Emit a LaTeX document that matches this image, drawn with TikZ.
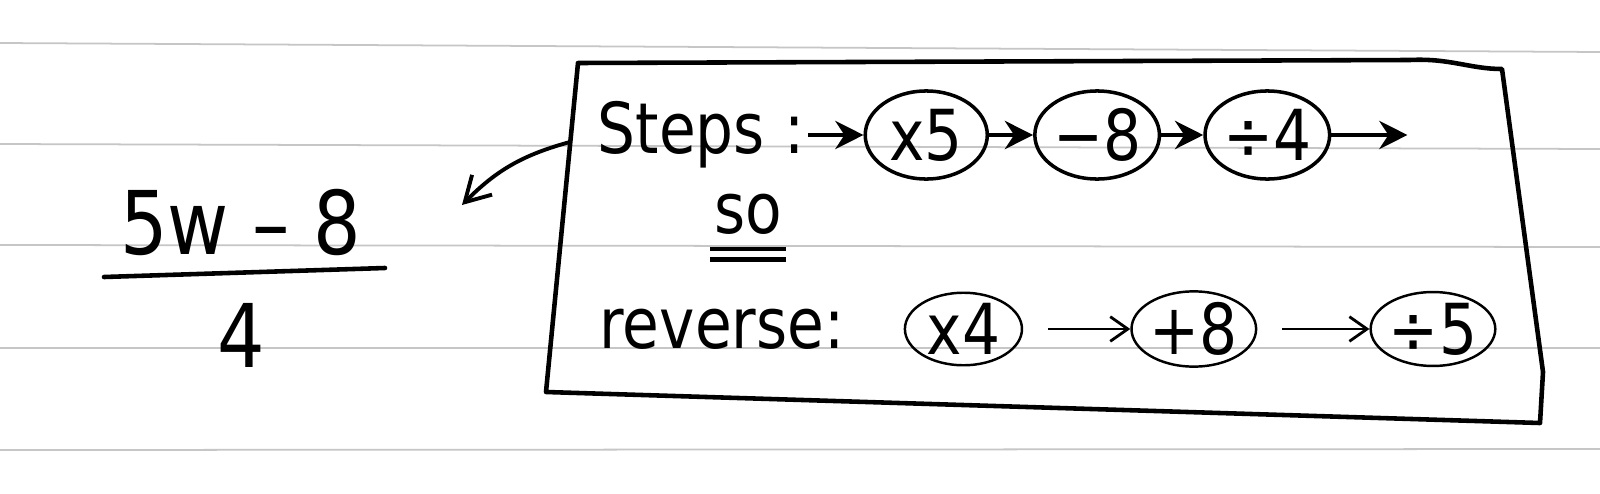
\documentclass[tikz,border=0pt]{standalone}
\usepackage{fontspec}
\setmainfont[FakeStretch=0.85]{DejaVu Sans}
\usepackage{tikz}
\usetikzlibrary{positioning, arrows.meta, shapes.geometric}

\begin{document}
\begin{tikzpicture}[x=0.01cm, y=-0.01cm, node distance=1cm,
    hand/.style={font=\fontsize{20}{24}\selectfont, inner sep=1pt},
    big/.style={font=\fontsize{25}{30}\selectfont, inner sep=1pt},
    op/.style={hand, ellipse, draw, line width=1pt, minimum width=1.22cm, minimum height=0.88cm, inner sep=0pt},
    rop/.style={op, line width=0.7pt, minimum width=1.17cm, minimum height=0.72cm},
    fwd/.style={line width=1.4pt, -{Stealth[length=8pt, width=8pt]}},
    back/.style={line width=0.8pt, -{Straight Barb[length=5pt, width=7pt]}},
    paperline/.style={gray!45, line width=0.5pt}]
    \fill[white] (0,0) rectangle (1600,494);
    \useasboundingbox (0,0) rectangle (1600,494);
    \foreach \ya/\yb in {43/52, 144/149, 245/247, 348/348, 450/449}
        \draw[paperline] (0,\ya) -- (1600,\yb);
    \node[big] (numer) at (241,222) {5w – 8};
    \node[big] (denom) [below=0.4cm of numer] {4};
    \draw[line width=1.3pt, line cap=round] (104,277) -- (385,268);
    \draw[line width=1.3pt, line join=round] (578,63) -- (1410,60) .. controls (1450,58) and (1470,69) .. (1502,69) -- (1543,372) -- (1540,423) -- (546,392) -- cycle;
    \coordinate (boxside) at (570,142);
    \coordinate (arrowtip) at (462,205);
    \draw[line width=1.1pt, -{Straight Barb[length=7pt, width=8pt]}] (boxside) to[bend right=15] (arrowtip);
    \node[hand] (steps) at (701,135) {Steps :};
    \node[op] (times5) [right=0.55cm of steps] {x5};
    \node[op] (minus8) [right=0.44cm of times5] {−8};
    \node[op] (div4) [right=0.42cm of minus8] {÷4};
    \coordinate[right=0.76cm of div4] (stepsout);
    \draw[fwd] (steps) -- (times5);
    \draw[fwd] (times5) -- (minus8);
    \draw[fwd] (minus8) -- (div4);
    \draw[fwd] (div4) -- (stepsout);
    \node[hand] (so) at (748,214) {so};
    \draw[line width=1.2pt] ([yshift=-3pt]so.south west) -- ([yshift=-3pt]so.south east);
    \draw[line width=1.2pt] ([yshift=-6pt]so.south west) -- ([yshift=-6pt]so.south east);
    \node[hand] (reverse) at (722,329) {reverse:};
    \node[rop] (times4) [right=0.55cm of reverse] {x4};
    \node[rop] (plus8) [right=1.07cm of times4] {+8};
    \node[rop] (div5) [right=1.12cm of plus8] {÷5};
    \draw[back, shorten <=7pt] (times4) -- (plus8);
    \draw[back, shorten <=7pt] (plus8) -- (div5);
\end{tikzpicture}
\end{document}
